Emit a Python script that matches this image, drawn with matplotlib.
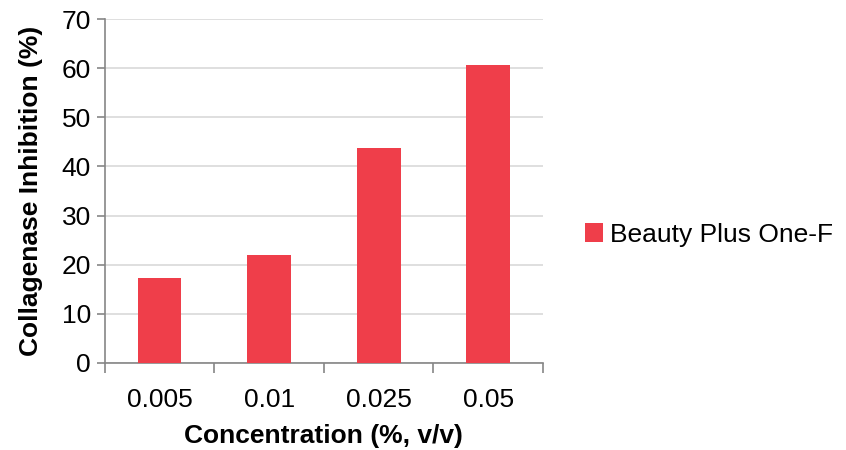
import numpy as np
import matplotlib.pyplot as plt

categories = ['0.005', '0.01', '0.025', '0.05']
inhibition = [17.2, 21.9, 43.7, 60.7]
series_name = 'Beauty Plus One-F'

plt.rcParams['font.family'] = ['Liberation Sans', 'DejaVu Sans']
FS = 19

fig = plt.figure(figsize=(8.46, 4.5), dpi=100)
ax = fig.add_axes([0.1238, 0.194, 0.518, 0.763])

xs = np.arange(len(categories))
ax.bar(xs, inhibition, width=0.4, color='#EF3E4A', label=series_name, zorder=3)

ax.set_xlim(-0.5, len(categories) - 0.5)
ax.set_ylim(0, 70)
ax.set_yticks(np.arange(0, 71, 10))
ax.yaxis.grid(True, color='#D9D9D9', linewidth=1.2, zorder=0)

ax.set_xticks(xs)
ax.set_xticklabels(categories, fontsize=FS)
ax.tick_params(axis='x', which='major', length=0, pad=18)
ax.set_xticks(np.arange(-0.5, len(categories)), minor=True)
ax.tick_params(axis='x', which='minor', length=7, width=1.2, color='#868686', direction='out')
ax.tick_params(axis='y', length=6, width=1.2, color='#868686', labelsize=FS, pad=4)

for s in ['top', 'right']:
    ax.spines[s].set_visible(False)
for s in ['left', 'bottom']:
    ax.spines[s].set_color('#868686')
    ax.spines[s].set_linewidth(1.2)

ax.set_xlabel('Concentration (%, v/v)', fontsize=FS, fontweight='bold', labelpad=9)
ax.set_ylabel('Collagenase Inhibition (%)', fontsize=FS, fontweight='bold', labelpad=13)

fig.legend(loc='center left', bbox_to_anchor=(0.663, 0.478), frameon=False,
           fontsize=FS, handlelength=0.7, handleheight=0.7, handletextpad=0.25)

fig.savefig('out.png', dpi=100)
